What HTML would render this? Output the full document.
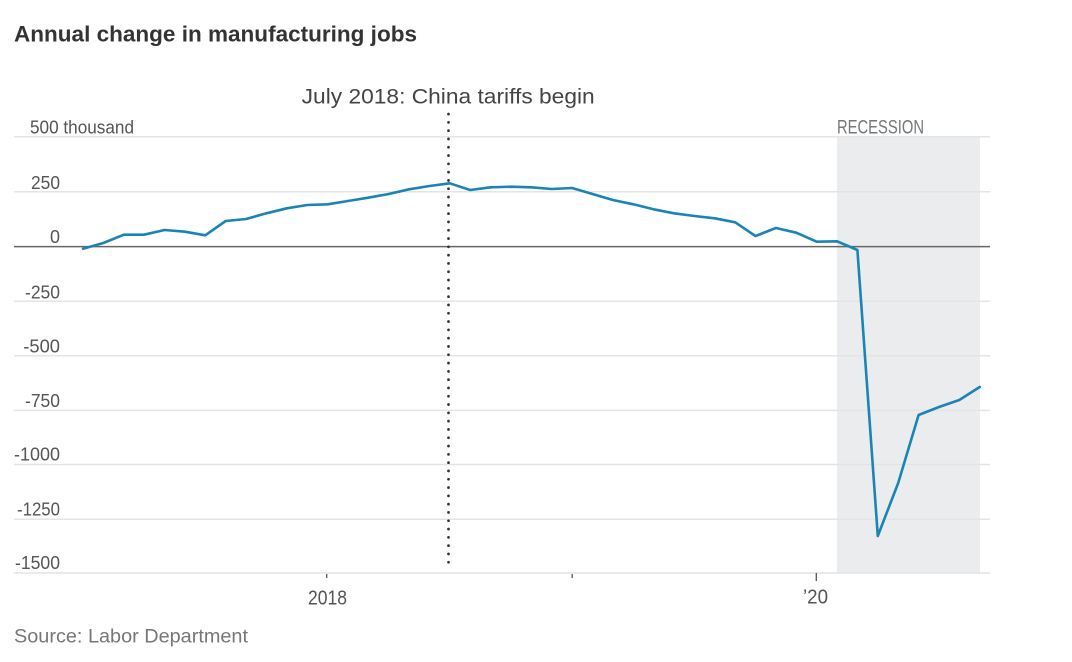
<!DOCTYPE html>
<html>
<head>
<meta charset="utf-8">
<style>
  html,body{margin:0;padding:0;background:#fff;}
  svg{display:block;}
  text{font-family:"Liberation Sans",sans-serif;}
</style>
</head>
<body>
<svg width="1072" height="662" viewBox="0 0 1072 662" xmlns="http://www.w3.org/2000/svg">
  <rect x="0" y="0" width="1072" height="662" fill="#fff"/>
  <!-- title -->
  <text x="14" y="41.5" font-size="22" font-weight="bold" fill="#333" textLength="403" lengthAdjust="spacingAndGlyphs">Annual change in manufacturing jobs</text>

  <!-- recession band -->
  <rect x="837" y="137" width="143" height="436" fill="#eaecee"/>

  <!-- gridlines -->
  <g stroke="#e4e4e4" stroke-width="1.5">
    <line x1="14" y1="136.7" x2="990" y2="136.7"/>
    <line x1="14" y1="191.8" x2="990" y2="191.8"/>
    <line x1="14" y1="301.2" x2="990" y2="301.2"/>
    <line x1="14" y1="355.8" x2="990" y2="355.8"/>
    <line x1="14" y1="410.4" x2="990" y2="410.4"/>
    <line x1="14" y1="464.5" x2="990" y2="464.5"/>
    <line x1="14" y1="519.2" x2="990" y2="519.2"/>
    <line x1="14" y1="573" x2="990" y2="573"/>
  </g>
  <!-- zero line -->
  <line x1="14" y1="246.6" x2="990" y2="246.6" stroke="#666" stroke-width="1.5"/>

  <!-- y labels -->
  <g font-size="18" fill="#555" lengthAdjust="spacingAndGlyphs">
    <text x="30" y="133.3" textLength="104" lengthAdjust="spacingAndGlyphs">500 thousand</text>
    <text x="31" y="189" textLength="29" lengthAdjust="spacingAndGlyphs">250</text>
    <text x="50" y="243.2" textLength="10" lengthAdjust="spacingAndGlyphs">0</text>
    <text x="25" y="298.3" textLength="35" lengthAdjust="spacingAndGlyphs">-250</text>
    <text x="23.3" y="352.5" textLength="36.7" lengthAdjust="spacingAndGlyphs">-500</text>
    <text x="25" y="407" textLength="35" lengthAdjust="spacingAndGlyphs">-750</text>
    <text x="14" y="460.5" textLength="46" lengthAdjust="spacingAndGlyphs">-1000</text>
    <text x="17" y="515.5" textLength="43" lengthAdjust="spacingAndGlyphs">-1250</text>
    <text x="15" y="568.8" textLength="45" lengthAdjust="spacingAndGlyphs">-1500</text>
  </g>

  <!-- x ticks -->
  <g stroke="#555" stroke-width="1.3">
    <line x1="326.7" y1="574" x2="326.7" y2="578"/>
    <line x1="572.2" y1="574" x2="572.2" y2="578"/>
    <line x1="816.3" y1="573" x2="816.3" y2="581"/>
  </g>
  <g font-size="20.5" fill="#555">
    <text x="308" y="604.5" textLength="39" lengthAdjust="spacingAndGlyphs">2018</text>
    <text x="803" y="603.5" textLength="25" lengthAdjust="spacingAndGlyphs">’20</text>
  </g>

  <!-- recession label -->
  <text x="837" y="133.3" font-size="19" fill="#777" textLength="87" lengthAdjust="spacingAndGlyphs">RECESSION</text>

  <!-- annotation -->
  <text x="301.7" y="103.3" font-size="21" fill="#444" textLength="293" lengthAdjust="spacingAndGlyphs">July 2018: China tariffs begin</text>
  <line x1="448.5" y1="114" x2="448.5" y2="566" stroke="#333" stroke-width="2.7" stroke-linecap="round" stroke-dasharray="0.1 8.2"/>

  <!-- data line -->
  <polyline fill="none" stroke="#1b84b5" stroke-width="2.6" stroke-linejoin="round" stroke-linecap="round"
    points="83,248.7 103.4,243 123.8,234.7 144.1,234.7 164.5,230 184.9,231.7 205.3,235.3 225.7,221 246,219 266.4,213.3 286.8,208.3 307.2,205 327.6,204.3 347.9,201 368.3,197.7 388.7,194 409.1,189.3 429.5,186 449.8,183.3 470.2,190 490.6,187.3 511,186.7 531.4,187.3 551.7,189 572.1,188 592.5,194 612.9,200 633.3,204.3 653.6,209.3 674,213.3 694.4,216 714.8,218.3 735.2,222.3 755.5,236 775.9,228 796.3,232.7 816.7,241.7 837.1,241.3 857.4,250 877.8,536 898.2,483 918.6,415 939,407 959.3,400 979.7,387"/>

  <!-- source -->
  <text x="14" y="642.5" font-size="19" fill="#777" textLength="234" lengthAdjust="spacingAndGlyphs">Source: Labor Department</text>
</svg>
</body>
</html>
